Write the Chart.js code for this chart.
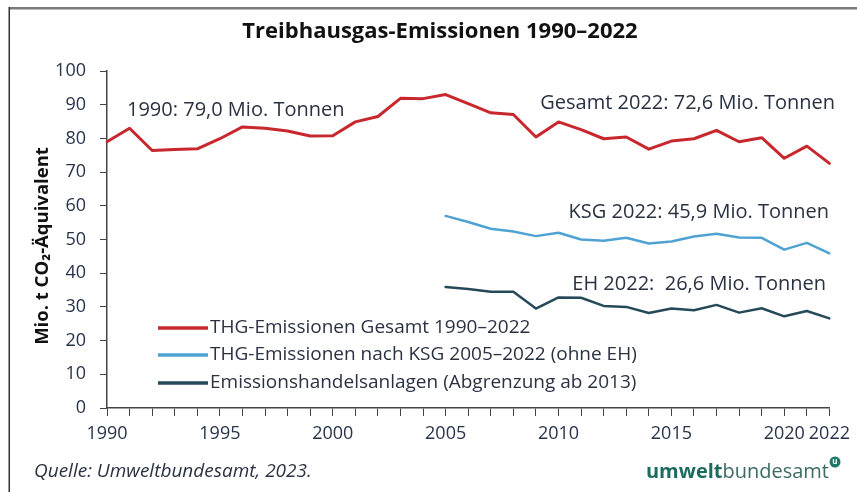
<!DOCTYPE html>
<html>
<head>
<meta charset="utf-8">
<script src="https://cdn.jsdelivr.net/npm/chart.js@4"></script>
<style>
html,body{margin:0;padding:0;background:#fff;}
#wrap{width:857px;height:492px;position:relative;}
</style>
</head>
<body>
<div id="wrap"><canvas id="c" width="857" height="492"></canvas></div>
<script>
const years = [1990,1991,1992,1993,1994,1995,1996,1997,1998,1999,2000,2001,2002,2003,2004,2005,2006,2007,2008,2009,2010,2011,2012,2013,2014,2015,2016,2017,2018,2019,2020,2021,2022];
const gesamt = [79.0,83.0,76.4,76.7,76.9,79.9,83.4,83.0,82.2,80.7,80.8,84.9,86.5,91.9,91.8,93.0,90.3,87.6,87.1,80.4,84.9,82.6,79.9,80.4,76.8,79.2,79.9,82.4,79.0,80.2,74.1,77.7,72.6];
const ksgStart = 2005;
const ksg = [57.0,55.2,53.2,52.4,51.0,52.0,50.0,49.6,50.5,48.8,49.4,50.9,51.7,50.6,50.5,47.0,49.0,45.9];
const ehStart = 2005;
const eh = [35.9,35.3,34.5,34.5,29.5,32.8,32.7,30.3,30.0,28.2,29.5,29.0,30.6,28.3,29.6,27.2,28.8,26.6];
const labeledYears = [1990,1995,2000,2005,2010,2015,2020,2022];
const yTicks = [0,10,20,30,40,50,60,70,80,90,100];
const seriesNames = ["THG-Emissionen Gesamt 1990–2022","THG-Emissionen nach KSG 2005–2022 (ohne EH)","Emissionshandelsanlagen (Abgrenzung ab 2013)"];
const colors = ["#c8272d","#4ea3d2","#26495a"];
const title = "Treibhausgas-Emissionen 1990–2022";
const yTitle = "Mio. t CO₂-Äquivalent";
const notes = ["1990: 79,0 Mio. Tonnen","Gesamt 2022: 72,6 Mio. Tonnen","KSG 2022: 45,9 Mio. Tonnen","EH 2022:  26,6 Mio. Tonnen"];
const source = "Quelle: Umweltbundesamt, 2023.";

const F = "'Open Sans', 'Noto Sans', sans-serif";
const TXT = "#2a3242";
const TICK = "#27334a";

function pad(arr, start){ return years.map(y => y < start ? null : arr[y - start]); }

const deco = {
  id:'deco',
  beforeDraw(chart){
    const ctx = chart.ctx;
    ctx.save();
    ctx.fillStyle = '#fff';
    ctx.fillRect(0,0,chart.width,chart.height);
    ctx.restore();
  },
  afterDraw(chart){
    const ctx = chart.ctx;
    ctx.save();
    // frame
    ctx.fillStyle = '#7a7a7a';
    ctx.fillRect(9,7,848,2.5);
    ctx.fillStyle = '#333';
    ctx.fillRect(8.5,7,1.5,485);
    // title
    ctx.fillStyle = '#111';
    ctx.font = "bold 22px " + F;
    ctx.textAlign = 'center';
    ctx.textBaseline = 'middle';
    ctx.fillText(title, 440, 32);
    // y title
    ctx.save();
    ctx.translate(43, 246);
    ctx.rotate(-Math.PI/2);
    ctx.font = "bold 18.5px " + F;
    ctx.fillStyle = '#111';
    ctx.fillText(yTitle, 0, 0);
    ctx.restore();
    // annotations
    ctx.font = "20px " + F;
    ctx.fillStyle = TXT;
    ctx.textAlign = 'left';
    ctx.fillText(notes[0], 127, 110);
    ctx.textAlign = 'right';
    ctx.fillText(notes[1], 835, 103);
    ctx.fillText(notes[2], 829, 212);
    ctx.fillText(notes[3], 826, 284);
    // legend
    const ly = [328,355,383];
    ctx.textAlign = 'left';
    ctx.font = "19px " + F;
    for (let i=0;i<3;i++){
      ctx.strokeStyle = colors[i];
      ctx.lineWidth = 3.5;
      ctx.beginPath();
      ctx.moveTo(158, ly[i]); ctx.lineTo(208, ly[i]);
      ctx.stroke();
      ctx.fillStyle = TXT;
      ctx.fillText(seriesNames[i], 210, ly[i]);
    }
    // footer
    ctx.font = "italic 19px " + F;
    ctx.fillStyle = TXT;
    ctx.fillText(source, 34, 472);
    // logo
    ctx.font = "bold 20px " + F;
    const w1 = ctx.measureText("umwelt").width;
    ctx.font = "20px " + F;
    const w2 = ctx.measureText("bundesamt").width;
    const x0 = 829 - w1 - w2;
    ctx.font = "bold 20px " + F;
    ctx.fillStyle = '#1d6b5f';
    ctx.fillText("umwelt", x0, 472);
    ctx.font = "20px " + F;
    ctx.fillStyle = '#3d6a66';
    ctx.fillText("bundesamt", x0 + w1, 472);
    ctx.beginPath();
    ctx.arc(835, 462, 5.5, 0, Math.PI*2);
    ctx.fillStyle = '#1d7a6a';
    ctx.fill();
    ctx.fillStyle = '#fff';
    ctx.font = "bold 8px " + F;
    ctx.textAlign = 'center';
    ctx.fillText("u", 835, 462);
    ctx.restore();
  }
};

new Chart(document.getElementById('c'), {
  type:'line',
  data:{
    labels: years,
    datasets:[
      {label:seriesNames[0], data:gesamt, borderColor:colors[0], borderWidth:3},
      {label:seriesNames[1], data:pad(ksg, ksgStart), borderColor:colors[1], borderWidth:2.5},
      {label:seriesNames[2], data:pad(eh, ehStart), borderColor:colors[2], borderWidth:2.5}
    ]
  },
  options:{
    responsive:false,
    animation:false,
    devicePixelRatio:1,
    elements:{point:{radius:0}, line:{tension:0, borderJoinStyle:'round', borderCapStyle:'round'}},
    layout:{padding:{top:71,right:26,left:0,bottom:0}},
    plugins:{legend:{display:false}, title:{display:false}, tooltip:{enabled:false}},
    scales:{
      x:{
        type:'category',
        offset:false,
        afterFit(s){ s.height = 84; },
        grid:{drawOnChartArea:false, drawTicks:true, tickLength:8, color:'#444', lineWidth:1},
        border:{color:'#444', width:1.5},
        ticks:{
          autoSkip:false, maxRotation:0, minRotation:0, padding:7,
          color:TICK, font:{family:F, size:18},
          callback(v, i){ const y = years[i]; return labeledYears.includes(y) ? String(y) : ''; }
        }
      },
      y:{
        min:0, max:100,
        afterFit(s){ s.width = 107; },
        afterBuildTicks(s){ s.ticks = yTicks.map(v => ({value:v})); },
        grid:{drawOnChartArea:false, drawTicks:true, tickLength:7, color:'#444', lineWidth:1},
        border:{color:'#444', width:1.5},
        ticks:{color:TICK, font:{family:F, size:18}, padding:14}
      }
    }
  },
  plugins:[deco]
});
</script>
</body>
</html>
